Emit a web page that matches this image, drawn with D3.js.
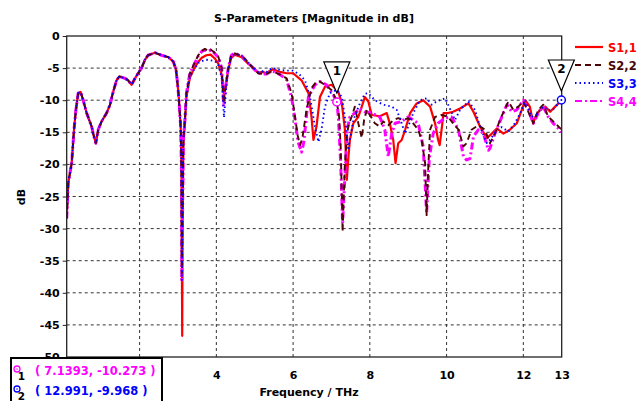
<!DOCTYPE html>
<html><head><meta charset="utf-8">
<script src="https://cdn.jsdelivr.net/npm/d3@7"></script>
<style>
body{margin:0;background:#fff;}
svg{display:block;font-family:"DejaVu Sans",sans-serif;font-weight:bold;}
</style>
</head><body><svg id="chart" width="640" height="401"></svg>
<script>
// ---------- data ----------
const titleText = "S-Parameters [Magnitude in dB]";
const xLabel = "Frequency / THz";
const yLabel = "dB";
const xGrid = [2, 4, 6, 8, 10, 12];
const xTickLabels = [4, 6, 8, 10, 12, 13];
const yTicks = [0, -5, -10, -15, -20, -25, -30, -35, -40, -45, -50];
const seriesNames = ["S1,1", "S2,2", "S3,3", "S4,4"];

// shared low-frequency part (all four ports overlap here)
const commonLow = [[0.10,-28.4],[0.14,-22.9],[0.23,-19.8],[0.29,-14.6],[0.34,-11.5],[0.40,-8.9],[0.46,-8.7],[0.53,-10.0],[0.62,-12.0],[0.75,-14.1],[0.79,-15.2],[0.86,-16.7],[0.92,-14.6],[1.01,-13.3],[1.14,-12.0],[1.23,-10.7],[1.31,-8.7],[1.40,-6.9],[1.47,-6.3],[1.62,-6.6],[1.70,-6.9],[1.79,-7.6],[1.88,-6.6],[1.96,-5.8],[2.05,-5.0],[2.14,-3.7],[2.22,-3.0],[2.40,-2.6],[2.57,-3.0],[2.75,-3.3],[2.88,-4.0],[2.95,-5.3],[2.98,-6.9],[3.02,-9.5],[3.07,-14.1]];

const s11 = [[3.09,-19.8],[3.11,-46.7],[3.12,-30],[3.14,-17],[3.18,-13.5],[3.22,-9.5],[3.31,-6.5],[3.40,-5.3],[3.53,-4.0],[3.62,-3.4],[3.74,-3.0],[3.85,-2.9],[3.96,-3.5],[4.05,-4.3],[4.14,-6.0],[4.20,-9.3],[4.25,-7.5],[4.31,-5.3],[4.39,-3.4],[4.48,-2.9],[4.66,-3.3],[4.83,-4.3],[4.96,-5.0],[5.09,-5.7],[5.22,-5.6],[5.31,-5.8],[5.40,-5.4],[5.48,-5.2],[5.66,-5.6],[5.83,-5.8],[6.00,-5.8],[6.22,-6.9],[6.40,-8.9],[6.48,-12.6],[6.53,-16.2],[6.61,-14.1],[6.70,-9.5],[6.83,-7.9],[7.00,-7.6],[7.18,-8.7],[7.27,-10.5],[7.35,-14.6],[7.40,-22.4],[7.44,-19],[7.48,-16.2],[7.57,-13.6],[7.70,-12.6],[7.79,-11.0],[7.87,-9.5],[7.96,-10.2],[8.05,-12.3],[8.26,-12.5],[8.44,-12.0],[8.52,-13.6],[8.61,-16.2],[8.67,-19.8],[8.74,-16.7],[8.83,-16.2],[8.92,-14.6],[9.05,-12.0],[9.22,-10.5],[9.39,-10.0],[9.57,-11.0],[9.70,-13.6],[9.78,-16.2],[9.82,-17.0],[9.87,-14.6],[9.92,-12.0],[10.04,-12.0],[10.17,-11.8],[10.35,-11.3],[10.57,-10.5],[10.70,-11.8],[10.87,-14.1],[11.05,-15.9],[11.18,-15.2],[11.31,-14.4],[11.48,-15.2],[11.65,-14.6],[11.83,-13.6],[11.96,-11.5],[12.05,-10.0],[12.17,-11.0],[12.26,-13.6],[12.30,-12.8],[12.43,-11.5],[12.57,-11.0],[12.70,-11.8],[12.83,-11.0],[13.0,-10.0]];

const s22 = [[3.09,-20.5],[3.10,-37],[3.12,-27],[3.14,-16.2],[3.18,-13.1],[3.22,-8.9],[3.31,-5.8],[3.40,-4.6],[3.53,-3.0],[3.62,-2.3],[3.70,-2.0],[3.79,-2.3],[3.85,-2.1],[3.92,-2.4],[4.05,-3.2],[4.14,-5.0],[4.19,-10.5],[4.24,-8.0],[4.31,-5.0],[4.39,-3.0],[4.48,-2.7],[4.66,-3.1],[4.83,-4.1],[4.96,-5.0],[5.09,-5.8],[5.22,-5.9],[5.31,-5.9],[5.40,-5.6],[5.48,-5.5],[5.66,-6.0],[5.83,-6.6],[5.96,-8.9],[6.05,-12.6],[6.12,-15.5],[6.18,-17.0],[6.24,-16.0],[6.35,-11.5],[6.48,-8.1],[6.61,-7.1],[6.70,-7.1],[6.83,-7.6],[7.00,-8.4],[7.13,-10.0],[7.20,-12.6],[7.24,-17.2],[7.27,-25.0],[7.29,-30.5],[7.32,-25],[7.35,-20],[7.40,-15.7],[7.44,-14],[7.53,-12.5],[7.61,-11.0],[7.70,-13.6],[7.79,-15.9],[7.85,-13.1],[7.92,-11.5],[8.00,-12.3],[8.13,-13.6],[8.26,-14.1],[8.35,-13.3],[8.48,-13.9],[8.61,-13.1],[8.74,-12.8],[8.87,-13.1],[9.00,-12.8],[9.13,-13.6],[9.26,-14.6],[9.35,-16.2],[9.44,-19.8],[9.48,-27.9],[9.52,-20.9],[9.57,-14.6],[9.70,-12.6],[9.87,-12.3],[10.04,-12.6],[10.17,-13.6],[10.31,-14.6],[10.44,-17.2],[10.52,-16.7],[10.65,-14.6],[10.83,-13.9],[11.00,-14.6],[11.13,-16.7],[11.26,-15.2],[11.39,-13.1],[11.61,-10.2],[11.74,-11.5],[11.87,-11.0],[12.00,-10.2],[12.13,-11.8],[12.26,-13.6],[12.39,-11.5],[12.52,-10.7],[12.65,-12.6],[12.78,-13.3],[13.0,-14.6]];

const s33 = [[3.09,-20.0],[3.10,-38],[3.12,-27],[3.14,-16.5],[3.18,-13.5],[3.22,-9.5],[3.31,-6.4],[3.40,-5.4],[3.53,-4.2],[3.62,-3.9],[3.74,-3.7],[3.85,-3.8],[3.96,-3.9],[4.05,-4.5],[4.14,-6.5],[4.20,-12.7],[4.25,-8.5],[4.31,-5.3],[4.39,-3.2],[4.48,-2.8],[4.66,-3.1],[4.83,-4.2],[4.96,-4.9],[5.09,-5.6],[5.22,-5.5],[5.31,-5.6],[5.40,-5.2],[5.48,-5.0],[5.66,-5.3],[5.83,-5.4],[6.00,-5.4],[6.17,-6.0],[6.31,-6.9],[6.44,-9.5],[6.57,-14.1],[6.66,-16.5],[6.74,-14.6],[6.83,-11.0],[6.96,-8.9],[7.13,-8.4],[7.27,-9.5],[7.35,-12.6],[7.40,-15.7],[7.44,-17.5],[7.50,-15.5],[7.57,-13.1],[7.74,-10.5],[7.87,-9.0],[7.96,-8.9],[8.13,-10.0],[8.35,-10.7],[8.57,-11.0],[8.70,-11.5],[8.83,-13.6],[8.92,-15.2],[9.00,-14.1],[9.13,-12.0],[9.31,-10.0],[9.48,-9.7],[9.61,-10.7],[9.74,-10.2],[9.96,-9.7],[10.04,-10.7],[10.22,-13.1],[10.35,-11.5],[10.57,-10.2],[10.74,-11.5],[10.87,-14.1],[11.05,-16.7],[11.13,-16.2],[11.31,-14.6],[11.44,-14.2],[11.61,-14.9],[11.78,-13.6],[11.92,-12.0],[12.05,-10.0],[12.22,-12.6],[12.35,-12.2],[12.52,-11.0],[12.65,-11.6],[12.78,-11.4],[12.991,-9.968]];

const s44 = [[3.09,-20.5],[3.10,-38],[3.12,-27],[3.14,-16.2],[3.18,-13.1],[3.22,-8.9],[3.31,-5.8],[3.40,-4.7],[3.53,-3.1],[3.62,-2.4],[3.70,-2.2],[3.79,-2.4],[3.85,-2.2],[3.92,-2.5],[4.05,-3.3],[4.14,-5.0],[4.19,-11.0],[4.24,-8.0],[4.31,-5.0],[4.39,-3.0],[4.48,-2.7],[4.66,-3.1],[4.83,-4.2],[4.96,-5.0],[5.09,-5.8],[5.22,-5.9],[5.31,-5.9],[5.40,-5.6],[5.48,-5.5],[5.66,-6.0],[5.83,-6.8],[5.96,-9.5],[6.05,-13.0],[6.13,-16.5],[6.22,-18.1],[6.28,-16.5],[6.40,-9.5],[6.57,-7.6],[6.70,-7.1],[6.87,-7.6],[7.05,-9.2],[7.1393,-10.273],[7.18,-12.6],[7.24,-19.8],[7.29,-29.2],[7.35,-21.9],[7.41,-14.6],[7.48,-12.6],[7.61,-12.0],[7.74,-11.3],[7.87,-11.8],[8.05,-12.0],[8.26,-12.6],[8.39,-14.6],[8.48,-18.8],[8.57,-15.2],[8.66,-13.6],[8.83,-13.3],[9.00,-12.6],[9.26,-13.6],[9.39,-17.2],[9.48,-27.6],[9.55,-19],[9.65,-15.2],[9.78,-13.6],[9.96,-12.8],[10.13,-12.6],[10.31,-14.6],[10.44,-18.8],[10.52,-19.3],[10.61,-19.1],[10.70,-15.7],[10.83,-14.6],[10.96,-15.2],[11.09,-17.8],[11.13,-17.5],[11.26,-15.2],[11.44,-12.6],[11.57,-10.7],[11.70,-11.8],[11.83,-11.5],[12.00,-10.0],[12.13,-11.5],[12.26,-13.6],[12.39,-12.0],[12.52,-11.0],[12.65,-12.6],[12.78,-13.6],[13.0,-14.9]];

const markerIds = ["1", "2"];
const markerFreq = [7.1393, 12.991];
const markerDb = [-10.273, -9.968];
const markerSeries = [3, 2];

// ---------- styles ----------
const colors = ["#ff0000", "#4b0505", "#0000ff", "#ff00ff"];
const dashes = [null, "6,4", "1.5,3", "7,3,2,3"];
const widths = [2.2, 1.9, 1.9, 3];
const drawOrder = [0, 3, 1, 2];

const svg = d3.select("#chart");
const L = 66.7, R = 561.7, T = 36, B = 357;
const x = d3.scaleLinear().domain([0.1, 13]).range([L, R]);
const y = d3.scaleLinear().domain([-50, 0]).range([B, T]);

const allSeries = [s11, s22, s33, s44].map(s => commonLow.concat(s));

// title
svg.append("text").attr("x", 314).attr("y", 22).attr("text-anchor", "middle")
  .attr("font-size", 11).attr("fill", "#000").text(titleText);

// grid
const grid = svg.append("g").attr("stroke", "#333").attr("stroke-width", 1).attr("stroke-dasharray", "3,3");
xGrid.forEach(v => {
  grid.append("line").attr("x1", x(v)).attr("x2", x(v)).attr("y1", T).attr("y2", B);
});
yTicks.filter(v => v < 0 && v > -50).forEach(v => {
  grid.append("line").attr("x1", L).attr("x2", R).attr("y1", y(v)).attr("y2", y(v));
});

// curves
svg.append("clipPath").attr("id", "pc").append("rect")
  .attr("x", L).attr("y", T).attr("width", R - L).attr("height", B - T);
const line = d3.line().x(d => x(d[0])).y(d => y(d[1]));
const plot = svg.append("g").attr("clip-path", "url(#pc)");
drawOrder.forEach(i => {
  plot.append("path").datum(allSeries[i]).attr("d", line)
    .attr("fill", "none").attr("stroke", colors[i]).attr("stroke-width", widths[i])
    .attr("stroke-dasharray", dashes[i]).attr("stroke-linejoin", "round");
});

// frame
svg.append("rect").attr("x", L).attr("y", T).attr("width", R - L).attr("height", B - T)
  .attr("fill", "none").attr("stroke", "#222").attr("stroke-width", 1.3);

// axes
const yAxis = d3.axisLeft(y).tickValues(yTicks).tickSize(4).tickPadding(3).tickFormat(d => String(d));
const gy = svg.append("g").attr("transform", `translate(${L},0)`).call(yAxis);
const xAxis = d3.axisBottom(x).tickValues(xTickLabels).tickSize(0).tickPadding(14).tickFormat(d => String(d));
const gx = svg.append("g").attr("transform", `translate(0,${B})`).call(xAxis);
[gx, gy].forEach(g => {
  g.select(".domain").remove();
  g.selectAll("text").attr("font-size", 11).attr("font-family", "DejaVu Sans").attr("font-weight", "bold").attr("fill", "#000");
  g.selectAll("line").attr("stroke", "#222");
});

svg.append("text").attr("x", 309).attr("y", 396).attr("text-anchor", "middle")
  .attr("font-size", 11).text(xLabel);
svg.append("text").attr("transform", "translate(25,197) rotate(-90)").attr("text-anchor", "middle")
  .attr("font-size", 11).text(yLabel);

// legend
const leg = svg.append("g");
seriesNames.forEach((n, i) => {
  const ly = 47 + i * 18;
  leg.append("line").attr("x1", 575).attr("x2", 603).attr("y1", ly).attr("y2", ly)
    .attr("stroke", colors[i]).attr("stroke-width", 2.2).attr("stroke-dasharray", dashes[i]);
  leg.append("text").attr("x", 608).attr("y", ly + 4.5).attr("font-size", 11.5)
    .attr("fill", colors[i]).text(n);
});

// markers
markerIds.forEach((id, k) => {
  const px = x(markerFreq[k]), py = y(markerDb[k]);
  const c = colors[markerSeries[k]];
  const g = svg.append("g");
  g.append("path").attr("d", `M${px - 13},${py - 40} L${px + 13},${py - 40} L${px},${py - 9} Z`)
    .attr("fill", "#fff").attr("stroke", "#000").attr("stroke-width", 1.2);
  g.append("text").attr("x", px).attr("y", py - 27).attr("text-anchor", "middle")
    .attr("font-size", 12).attr("fill", "#000").text(id);
  g.append("circle").attr("cx", px).attr("cy", py).attr("r", 4).attr("fill", "#fff")
    .attr("stroke", c).attr("stroke-width", 1.5);
  g.append("circle").attr("cx", px).attr("cy", py).attr("r", 1).attr("fill", c);
});

// marker readout box
const box = svg.append("g");
box.append("rect").attr("x", 11).attr("y", 358).attr("width", 151).attr("height", 60)
  .attr("fill", "#fff").attr("stroke", "#000").attr("stroke-width", 2);
markerIds.forEach((id, k) => {
  const c = colors[markerSeries[k]];
  const cy = 369 + k * 20;
  box.append("circle").attr("cx", 17).attr("cy", cy).attr("r", 3).attr("fill", "#fff")
    .attr("stroke", c).attr("stroke-width", 1.3);
  box.append("circle").attr("cx", 17).attr("cy", cy).attr("r", 0.8).attr("fill", c);
  box.append("text").attr("x", 21.5).attr("y", cy + 11).attr("text-anchor", "middle")
    .attr("font-size", 10.5).attr("fill", "#000").text(id);
  box.append("text").attr("x", 35).attr("y", cy + 5.5).attr("font-size", 11.5)
    .attr("fill", c).text(`( ${markerFreq[k]}, ${markerDb[k]} )`);
});
</script>
</body></html>
